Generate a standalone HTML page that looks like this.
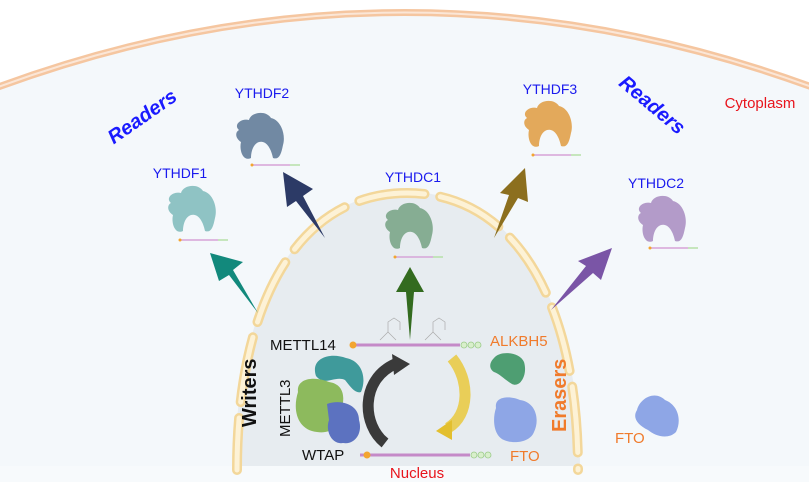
<!DOCTYPE html>
<html><head><meta charset="utf-8"><style>
html,body{margin:0;padding:0;background:#fff;}
svg{display:block;font-family:"Liberation Sans",sans-serif;}
</style></head><body>
<svg width="809" height="482" viewBox="0 0 809 482" xmlns="http://www.w3.org/2000/svg">
<defs>
<path id="blob" d="M8 20 C2 15 10 8 18 10 C20 2 35 0 40 8 C50 10 55 25 52 35 C50 45 48 50 42 48 C40 38 35 30 28 32 C22 34 20 42 20 48 C12 52 8 40 10 32 C4 28 4 22 8 20 Z"/>
<g id="rna">
<line x1="0" y1="0" x2="38" y2="0" stroke="#d6a3d8" stroke-width="1.5"/>
<line x1="38" y1="0" x2="48" y2="0" stroke="#b6e0a8" stroke-width="1.5"/>
<circle cx="0" cy="0" r="1.5" fill="#f3a530"/>
</g>
</defs>
<rect width="809" height="482" fill="#fff"/>
<path d="M-10 90 Q404 -65 820 90 L820 482 L-10 482 Z" fill="#f4f8fb"/>
<path d="M-10 90 Q404 -65 820 90" fill="none" stroke="#f5c6a0" stroke-width="7"/>
<path d="M-10 90 Q404 -65 820 90" fill="none" stroke="#fbe6d6" stroke-width="2"/>
<path d="M235 470 C235 300 300 192 407 192 C514 192 580 300 580 470 Z" fill="#e7ecf0"/>
<rect x="0" y="466" width="809" height="16" fill="#f7fafc"/>
<path d="M237 470 C237 300 300 193 407 193 C514 193 578 300 578 470" fill="none" stroke="#f3d79a" stroke-width="10" stroke-linecap="round" stroke-dasharray="66 16" stroke-dashoffset="14"/>
<path d="M237 470 C237 300 300 193 407 193 C514 193 578 300 578 470" fill="none" stroke="#fdf2d6" stroke-width="5" stroke-linecap="round" stroke-dasharray="66 16" stroke-dashoffset="14"/>
<g>
<polygon points="210,253 243,262 233,270 258,313 229,275 219,281" fill="#12897c"/>
<polygon points="283,172 313,189 303,196 325,238 296,201 287,207" fill="#2c3a66"/>
<polygon points="410,267 424,292 414,292 410,340 406,292 396,292" fill="#336b1f"/>
<polygon points="525,168 528,202 518,198 494,238 509,195 500,193" fill="#8c6f1e"/>
<polygon points="612,248 601,280 593,273 551,310 586,266 578,261" fill="#7a55a6"/>
</g>
<g transform="translate(163,183)"><use href="#blob" fill="#8fc3c4"/></g><use href="#rna" x="180" y="240"/>
<g transform="translate(231,110)"><use href="#blob" fill="#7189a3"/></g><use href="#rna" x="252" y="165"/>
<g transform="translate(380,200)"><use href="#blob" fill="#86ad93"/></g><use href="#rna" x="395" y="257"/>
<g transform="translate(519,98)"><use href="#blob" fill="#e3a95b"/></g><use href="#rna" x="533" y="155"/>
<g transform="translate(633,193)"><use href="#blob" fill="#b39bc9"/></g><use href="#rna" x="650" y="248"/>
<g fill="#1a1aee" font-size="14" text-anchor="middle">
<text x="180" y="178">YTHDF1</text>
<text x="262" y="98">YTHDF2</text>
<text x="413" y="182">YTHDC1</text>
<text x="550" y="94">YTHDF3</text>
<text x="656" y="188">YTHDC2</text>
</g>
<g fill="#1a1aff" font-size="20" font-weight="bold" font-style="italic" text-anchor="middle">
<text transform="translate(146,122) rotate(-35)">Readers</text>
<text transform="translate(648,110) rotate(40)">Readers</text>
</g>
<text x="760" y="108" fill="#e8141c" font-size="15" text-anchor="middle">Cytoplasm</text>
<line x1="353" y1="345" x2="460" y2="345" stroke="#c58ac8" stroke-width="3"/>
<circle cx="353" cy="345" r="3.5" fill="#f3a530"/>
<g fill="#d8efcb" stroke="#9ccb8a" stroke-width="0.8"><circle cx="464" cy="345" r="3"/><circle cx="471" cy="345" r="3"/><circle cx="478" cy="345" r="3"/></g>
<line x1="360" y1="455" x2="470" y2="455" stroke="#c58ac8" stroke-width="3"/>
<circle cx="367" cy="455" r="3.5" fill="#f3a530"/>
<g fill="#d8efcb" stroke="#9ccb8a" stroke-width="0.8"><circle cx="474" cy="455" r="3"/><circle cx="481" cy="455" r="3"/><circle cx="488" cy="455" r="3"/></g>
<g fill="none" stroke="#aaa" stroke-width="0.7"><path d="M380 340 l8 -8 l8 8 M388 332 l0 -10 l6 -4 l6 4 l0 8"/><path d="M425 340 l8 -8 l8 8 M433 332 l0 -10 l6 -4 l6 4 l0 8"/></g>
<path d="M316 376 C310 358 330 352 346 358 C362 361 367 378 361 392 C355 394 350 386 345 380 C335 375 325 387 316 376 Z" fill="#3f9a9b"/>
<path d="M298 392 C296 378 315 376 329 382 C343 384 346 396 341 411 C343 427 330 434 317 432 C298 430 292 411 298 392 Z" fill="#8dba5d"/>
<path d="M327 404 C340 399 359 404 359 420 C363 433 355 445 343 443 C332 445 325 431 329 420 Z" fill="#5c72c0"/>
<path d="M385 443 C362 425 360 380 395 364" fill="none" stroke="#3a3a3a" stroke-width="11"/>
<polygon points="392,354 410,364 394,375" fill="#3a3a3a"/>
<path d="M452 358 C470 380 470 415 448 428" fill="none" stroke="#e9c93d" stroke-width="11" opacity="0.85"/>
<polygon points="452,420 436,431 452,440" fill="#e3bf2e"/>
<path d="M494 358 C500 350 520 352 524 362 C528 375 520 388 512 384 C505 380 500 374 494 372 C488 368 490 362 494 358 Z" fill="#4e9e72"/>
<path d="M496 408 C494 395 512 396 520 400 C536 402 540 420 534 432 C530 443 512 444 504 440 C494 436 492 420 496 408 Z" fill="#8ea6e6"/>
<path d="M637 410 C640 398 655 390 665 400 C678 405 682 420 676 432 C668 440 655 436 648 430 C638 425 632 418 637 410 Z" fill="#8ea6e6"/>
<g fill="#111" font-size="15">
<text x="270" y="350">METTL14</text>
<text x="302" y="460">WTAP</text>
<text transform="translate(290,437) rotate(-90)">METTL3</text>
</g>
<text transform="translate(256,427) rotate(-90)" fill="#111" font-size="20" font-weight="bold">Writers</text>
<text transform="translate(566,432) rotate(-90)" fill="#f07b2c" font-size="20" font-weight="bold">Erasers</text>
<g fill="#f07b2c" font-size="15">
<text x="490" y="346">ALKBH5</text>
<text x="510" y="461">FTO</text>
<text x="615" y="443">FTO</text>
</g>
<text x="417" y="478" fill="#e8141c" font-size="15" text-anchor="middle">Nucleus</text>
</svg>
</body></html>
